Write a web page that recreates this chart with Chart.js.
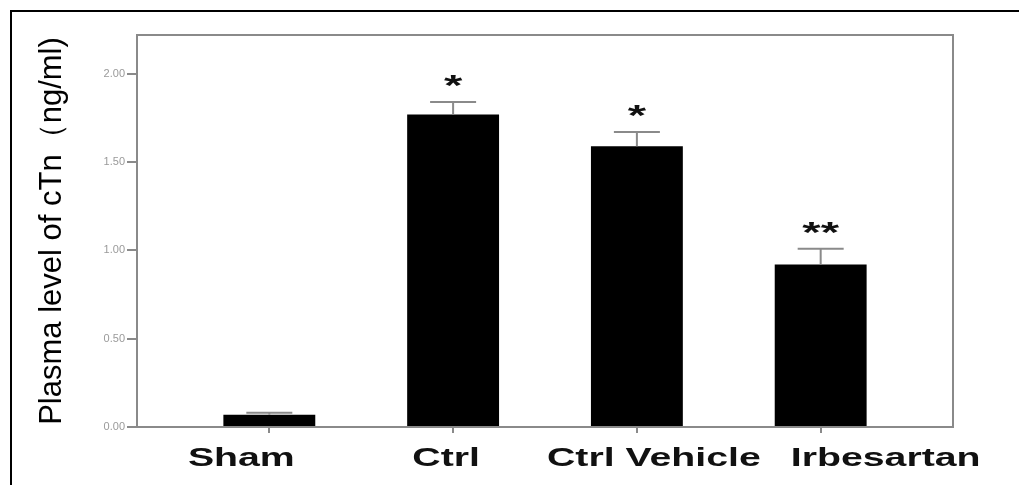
<!DOCTYPE html>
<html lang="en">
<head>
    <meta charset="UTF-8">
    <title>Plasma level of cTn</title>
    <style>
        html, body {
            margin: 0;
            padding: 0;
            background: #fff;
            overflow: hidden;
        }
        .wrap {
            position: relative;
            width: 1019px;
            height: 485px;
        }
        /* outer frame of the figure (top and left edges visible) */
        .frame {
            position: absolute;
            left: 10px;
            top: 10px;
            width: 1100px;
            height: 600px;
            border-top: 2px solid #000;
            border-left: 2px solid #000;
            pointer-events: none;
        }
    </style>
    <script src="https://cdn.jsdelivr.net/npm/chart.js"></script>
</head>
<body>
    <div class="wrap">
        <canvas id="chart" width="1019" height="485"></canvas>
        <div class="frame"></div>
    </div>

    <script>
        const categories = ['Sham', 'Ctrl', 'Ctrl Vehicle', 'Irbesartan'];
        const means = [0.07, 1.77, 1.59, 0.92];
        const errors = [0.01, 0.07, 0.08, 0.09];
        const marks = ['', '*', '*', '**'];
        const yTicks = [0, 0.5, 1.0, 1.5, 2.0];

        const FONT = "'Liberation Sans', Arial, sans-serif";
        const GREY = '#8a8a8a';

        // box round the plot area
        const framePlugin = {
            id: 'plotFrame',
            afterDraw(chart) {
                const { ctx, chartArea: a } = chart;
                ctx.save();
                ctx.strokeStyle = GREY;
                ctx.lineWidth = 2;
                ctx.strokeRect(a.left, a.top, a.right - a.left, a.bottom - a.top);
                ctx.restore();
            }
        };

        // error bars, significance stars and the wide category labels
        const errorPlugin = {
            id: 'errorBars',
            afterDatasetsDraw(chart, args, opts) {
                const ctx = chart.ctx;
                const yScale = chart.scales.y;
                const xScale = chart.scales.x;
                const bars = chart.getDatasetMeta(0).data;
                ctx.save();
                bars.forEach((bar, i) => {
                    const top = yScale.getPixelForValue(means[i] + errors[i]);
                    ctx.strokeStyle = GREY;
                    ctx.lineWidth = 2;
                    ctx.beginPath();
                    ctx.moveTo(bar.x, bar.y);
                    ctx.lineTo(bar.x, top);
                    ctx.moveTo(bar.x - opts.capHalf, top);
                    ctx.lineTo(bar.x + opts.capHalf, top);
                    ctx.stroke();

                    if (marks[i]) {
                        ctx.save();
                        ctx.translate(bar.x, top - 7);
                        ctx.scale(opts.stretch, 1);
                        ctx.fillStyle = '#111';
                        ctx.font = 'bold 30px ' + FONT;
                        ctx.textAlign = 'center';
                        ctx.textBaseline = 'alphabetic';
                        ctx.fillText(marks[i], 0, 0);
                        ctx.restore();
                    }
                });

                categories.forEach((label, i) => {
                    const x = xScale.getPixelForValue(i) + opts.labelShift[i];
                    ctx.save();
                    ctx.translate(x, opts.labelBaseline);
                    ctx.scale(opts.stretch, 1);
                    ctx.fillStyle = '#111';
                    ctx.font = 'bold 25px ' + FONT;
                    ctx.textAlign = 'center';
                    ctx.textBaseline = 'alphabetic';
                    ctx.fillText(label, 0, 0);
                    ctx.restore();
                });
                ctx.restore();
            }
        };

        const ctx = document.getElementById('chart').getContext('2d');
        const chart = new Chart(ctx, {
            type: 'bar',
            data: {
                datasets: [{
                    data: means.map((v, i) => ({ x: i, y: v })),
                    backgroundColor: '#000',
                    borderWidth: 0,
                    barPercentage: 0.5,
                    categoryPercentage: 1.0,
                }]
            },
            options: {
                responsive: false,
                animation: false,
                layout: {
                    padding: { left: 30, top: 35, right: 66, bottom: 0 }
                },
                plugins: {
                    legend: { display: false },
                    tooltip: { enabled: false },
                    errorBars: {
                        capHalf: 23,
                        stretch: 1.57,
                        labelBaseline: 466,
                        labelShift: [-28, -7, 17, 65],
                    },
                },
                scales: {
                    x: {
                        type: 'linear',
                        offset: false,
                        min: -0.72,
                        max: 3.72,
                        afterBuildTicks: (scale) => {
                            scale.ticks = categories.map((c, i) => ({ value: i }));
                        },
                        afterFit: (scale) => { scale.height = 58; },
                        ticks: {
                            color: 'rgba(0,0,0,0)',
                            callback: () => '',
                        },
                        grid: {
                            offset: false,
                            drawOnChartArea: false,
                            drawTicks: true,
                            tickLength: 6,
                            color: GREY,
                            lineWidth: 2,
                        },
                        border: { color: GREY, width: 2 },
                    },
                    y: {
                        min: 0,
                        max: 2.22,
                        afterBuildTicks: (scale) => {
                            scale.ticks = yTicks.map(v => ({ value: v }));
                        },
                        afterFit: (scale) => { scale.width = 107; },
                        ticks: {
                            color: '#9a9a9a',
                            font: { family: FONT, size: 11 },
                            padding: 2,
                            callback: (v) => Number(v).toFixed(2),
                        },
                        grid: {
                            drawOnChartArea: false,
                            drawTicks: true,
                            tickLength: 10,
                            color: GREY,
                            lineWidth: 2,
                        },
                        border: { color: GREY, width: 2 },
                        title: {
                            display: true,
                            text: 'Plasma level of cTn（ng/ml)',
                            color: '#000',
                            font: { family: FONT, size: 31 },
                            padding: { top: 4, bottom: 4 },
                        },
                    },
                },
            },
            plugins: [framePlugin, errorPlugin],
        });
    </script>
</body>
</html>
